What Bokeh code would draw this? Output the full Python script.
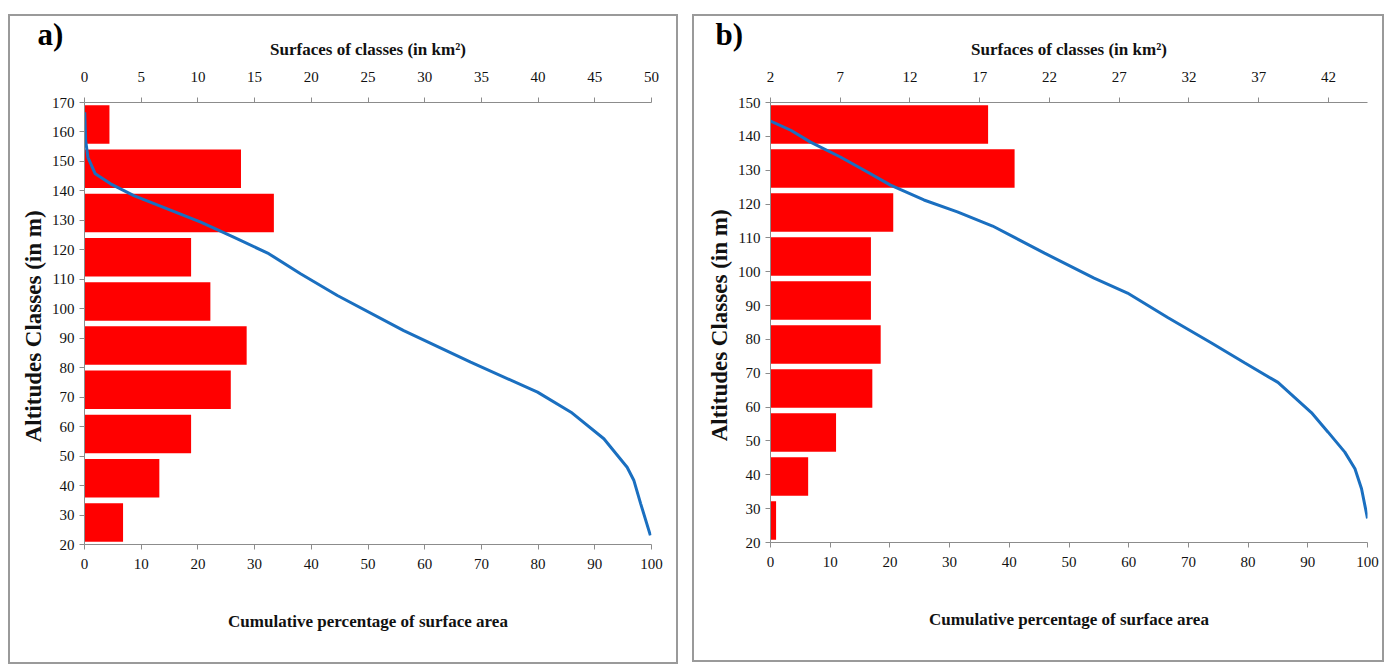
from bokeh.plotting import figure
from bokeh.layouts import row
from bokeh.models import Range1d, LinearAxis, FixedTicker
from bokeh.embed import file_html
from bokeh.resources import INLINE

# ---------------- data ----------------
# Panel a: altitude classes (m), bar surfaces (km²), hypsometric curve
a_class_lo = [155, 140, 125, 110, 95, 80, 65, 50, 35, 20]
a_class_hi = [170, 155, 140, 125, 110, 95, 80, 65, 50, 35]
a_surface_km2 = [2.2, 13.8, 16.7, 9.4, 11.1, 14.3, 12.9, 9.4, 6.6, 3.4]
a_cum_pct = [0.05, 0.2, 0.6, 1.9, 4.6, 8.7, 14.6, 20.5, 26.3, 32.5, 38.1, 44.6,
             56.3, 68.1, 79.9, 85.8, 91.6, 95.7, 96.9, 98.1, 99.8]
a_cum_alt = [166.7, 157.1, 151.4, 145.8, 142.4, 138.4, 133.9, 129.4, 124.3, 118.7,
             111.9, 104.5, 92.6, 81.9, 71.7, 64.9, 55.9, 46.2, 41.7, 33.8, 23.1]

# Panel b
b_class_lo = [137, 124, 111, 98, 85, 72, 59, 46, 33, 20]
b_class_hi = [150, 137, 124, 111, 98, 85, 72, 59, 46, 33]
b_surface_km2 = [17.6, 19.5, 10.8, 9.2, 9.2, 9.9, 9.3, 6.7, 4.7, 2.4]
b_cum_pct = [0, 3.4, 6.7, 11.7, 15.7, 20.1, 25.7, 31.3, 37.2, 45.9, 54.2, 59.8,
             66.6, 73.8, 79.4, 85.0, 90.6, 93.4, 96.2, 97.9, 99.0, 100]
b_cum_alt = [144.5, 141.8, 138.3, 133.9, 130.0, 125.6, 121.2, 117.7, 113.5, 105.5,
             98.1, 93.7, 86.4, 79.0, 73.1, 67.3, 58.4, 52.6, 46.7, 41.8, 35.9, 27.1]

pct_ticks = [0, 10, 20, 30, 40, 50, 60, 70, 80, 90, 100]
a_alt_ticks = [20, 30, 40, 50, 60, 70, 80, 90, 100, 110, 120, 130, 140, 150, 160, 170]
b_alt_ticks = [20, 30, 40, 50, 60, 70, 80, 90, 100, 110, 120, 130, 140, 150]
a_km_ticks = [0, 5, 10, 15, 20, 25, 30, 35, 40, 45, 50]
b_km_ticks = [2, 7, 12, 17, 22, 27, 32, 37, 42]

FONT = "Liberation Serif"
AXC = "#8c8c8c"
RED = "#ff0000"
BLUE = "#1a6fc0"


def style_axis(ax, ticks):
    ax.ticker = FixedTicker(ticks=ticks)
    ax.axis_line_color = AXC
    ax.axis_line_width = 1
    ax.major_tick_line_color = AXC
    ax.major_tick_out = 5
    ax.major_tick_in = 0
    ax.minor_tick_line_color = None
    ax.major_label_text_font = FONT
    ax.major_label_text_font_size = "15px"
    ax.major_label_text_color = "#111111"
    ax.axis_label_text_font = FONT
    ax.axis_label_text_font_style = "bold"
    ax.axis_label_text_font_size = "17px"
    ax.axis_label_text_color = "#111111"


def make_panel(letter, letter_offset, lo, hi, surf, cpct, calt, ymin, ymax, kmin, kmax,
               yticks, kticks, width, height, left, right, bottom):
    p = figure(width=width, height=height, output_backend="svg", toolbar_location=None,
               x_range=Range1d(0, 100), y_range=Range1d(ymin, ymax),
               min_border_left=left, min_border_right=right,
               min_border_top=86, min_border_bottom=bottom)
    p.outline_line_color = None
    p.xgrid.visible = False
    p.ygrid.visible = False
    p.styles = {"border": "2px solid #9a9a9a", "box-sizing": "border-box"}
    p.extra_x_ranges = {"km": Range1d(kmin, kmax)}

    # panel letter as the plot title, pulled down next to the top axis
    p.title.text = letter
    p.title.align = "left"
    p.title.offset = letter_offset
    p.title.vertical_align = "top"
    p.title.standoff = -34
    p.title.text_font = FONT
    p.title.text_font_style = "bold"
    p.title.text_font_size = "31px"
    p.title.text_color = "#000000"

    centers = [(a + b) / 2 for a, b in zip(lo, hi)]
    heights = [(b - a) * 0.87 for a, b in zip(lo, hi)]
    p.hbar(y=centers, left=kmin, right=surf, height=heights, x_range_name="km",
           fill_color=RED, line_color=None)
    p.line(cpct, calt, line_color=BLUE, line_width=3)

    xb = p.xaxis[0]
    style_axis(xb, pct_ticks)
    xb.major_label_standoff = 9
    xb.axis_label = "Cumulative percentage of surface area"
    xb.axis_label_standoff = 40

    yl = p.yaxis[0]
    style_axis(yl, yticks)
    yl.major_label_standoff = 5
    yl.axis_label = "Altitudes  Classes (in m)"
    yl.axis_label_text_font_size = "23px"
    yl.axis_label_standoff = 3

    top = LinearAxis(x_range_name="km", axis_label="Surfaces of classes (in km²)")
    style_axis(top, kticks)
    top.major_label_standoff = 16
    top.axis_label_standoff = 10
    p.add_layout(top, "above")
    return p


pa = make_panel("a)", -47, a_class_lo, a_class_hi, a_surface_km2, a_cum_pct, a_cum_alt,
                20, 170, 0, 50, a_alt_ticks, a_km_ticks, 670, 650, 74, 29, 122)
pa.margin = (14, 0, 0, 8)

pb = make_panel("b)", -55, b_class_lo, b_class_hi, b_surface_km2, b_cum_pct, b_cum_alt,
                20, 150, 2, 44.8, b_alt_ticks, b_km_ticks, 692, 648, 76, 19, 120)
pb.margin = (14, 0, 0, 14)

layout = row(pa, pb)

open("out.html", "w").write(file_html(layout, INLINE))
